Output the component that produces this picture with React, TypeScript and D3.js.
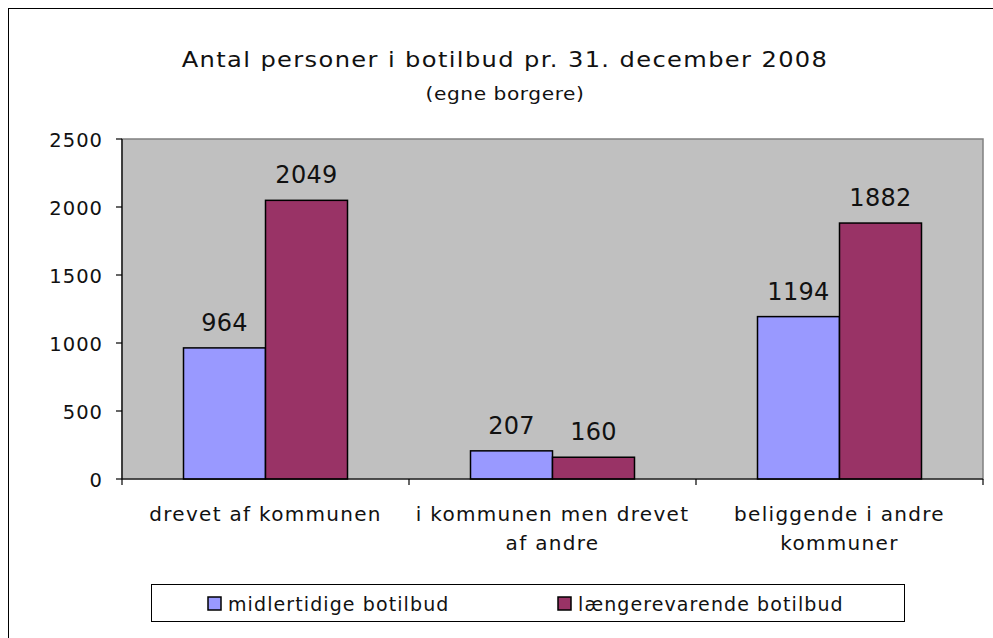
import React, { useRef, useEffect } from "react";
import * as d3 from "d3";

// chart data
const categories = [
  ["drevet af kommunen"],
  ["i kommunen men drevet", "af andre"],
  ["beliggende i andre", "kommuner"],
];
const seriesNames = ["midlertidige botilbud", "længerevarende botilbud"];
const midlertidige = [964, 207, 1194];
const laengerevarende = [2049, 160, 1882];
const yTicks = [0, 500, 1000, 1500, 2000, 2500];
const colors = ["#9999FF", "#993366"];

const W = 993;
const H = 638;
const FONT = "'DejaVu Sans', Verdana, sans-serif";

function BarChart() {
  const svgRef = useRef<SVGSVGElement | null>(null);

  const draw = () => {
    const svg = d3.select(svgRef.current);
    svg.selectAll("*").remove();

    const plot = { left: 122, top: 139, right: 983, bottom: 479 };

    // outer frame (only top/left visible)
    svg
      .append("rect")
      .attr("x", 8.5)
      .attr("y", 8.5)
      .attr("width", W + 20)
      .attr("height", H + 20)
      .attr("fill", "white")
      .attr("stroke", "black")
      .attr("stroke-width", 1);

    // title (glyphs a bit wide in the original, so stretch horizontally)
    svg
      .append("text")
      .attr("transform", "translate(505,67) scale(1.15,1)")
      .attr("text-anchor", "middle")
      .style("font-family", FONT)
      .style("font-size", "21px")
      .style("letter-spacing", "1.2px")
      .attr("fill", "#111")
      .text("Antal personer i botilbud pr. 31. december 2008");
    svg
      .append("text")
      .attr("transform", "translate(505,100) scale(1.12,1)")
      .attr("text-anchor", "middle")
      .style("font-family", FONT)
      .style("font-size", "18px")
      .style("letter-spacing", "0.5px")
      .attr("fill", "#111")
      .text("(egne borgere)");

    const x = d3
      .scaleBand()
      .domain(categories.map((c, i) => String(i)))
      .range([plot.left, plot.right])
      .padding(0);

    const inner = d3
      .scaleBand()
      .domain(["0", "1"])
      .range([0, 164]);

    const y = d3.scaleLinear().domain([0, 2500]).range([plot.bottom, plot.top]);

    // plot background
    svg
      .append("rect")
      .attr("x", plot.left)
      .attr("y", plot.top)
      .attr("width", plot.right - plot.left)
      .attr("height", plot.bottom - plot.top)
      .attr("fill", "#C0C0C0")
      .attr("stroke", "#808080")
      .attr("stroke-width", 1.5);

    const series = [midlertidige, laengerevarende];
    const g = svg.append("g");
    series.forEach((vals, s) => {
      const bx = (i: number) => x(String(i))! + x.bandwidth() / 2 - 82 + inner(String(s))!;
      g.selectAll(".bar" + s)
        .data(vals)
        .join("rect")
        .attr("x", (d, i) => bx(i))
        .attr("y", d => y(d))
        .attr("width", inner.bandwidth())
        .attr("height", d => y(0) - y(d))
        .attr("fill", colors[s])
        .attr("stroke", "black")
        .attr("stroke-width", 1.5);

      g.selectAll(".lab" + s)
        .data(vals)
        .join("text")
        .attr("x", (d, i) => bx(i) + inner.bandwidth() / 2)
        .attr("y", d => y(d) - 17)
        .attr("text-anchor", "middle")
        .style("font-family", FONT)
        .style("font-size", "24px")
        .style("letter-spacing", "0.3px")
        .attr("fill", "#111")
        .text(d => d);
    });

    // y axis
    const yAxis = svg.append("g");
    yAxis
      .append("line")
      .attr("x1", plot.left)
      .attr("x2", plot.left)
      .attr("y1", plot.top)
      .attr("y2", plot.bottom)
      .attr("stroke", "black")
      .attr("stroke-width", 1.2);
    yTicks.forEach(t => {
      yAxis
        .append("line")
        .attr("x1", plot.left - 6)
        .attr("x2", plot.left)
        .attr("y1", y(t))
        .attr("y2", y(t))
        .attr("stroke", "black")
        .attr("stroke-width", 1.2);
      yAxis
        .append("text")
        .attr("x", 103)
        .attr("y", y(t))
        .attr("dy", "0.4em")
        .attr("text-anchor", "end")
        .style("font-family", FONT)
        .style("font-size", "19.5px")
        .style("letter-spacing", "1px")
        .attr("fill", "#111")
        .text(t);
    });

    // x axis
    const xAxis = svg.append("g");
    xAxis
      .append("line")
      .attr("x1", plot.left)
      .attr("x2", plot.right)
      .attr("y1", plot.bottom)
      .attr("y2", plot.bottom)
      .attr("stroke", "black")
      .attr("stroke-width", 1.2);
    [0, 1, 2, 3].forEach(i => {
      const xx = plot.left + i * x.bandwidth();
      xAxis
        .append("line")
        .attr("x1", xx)
        .attr("x2", xx)
        .attr("y1", plot.bottom)
        .attr("y2", plot.bottom + 6)
        .attr("stroke", "black")
        .attr("stroke-width", 1.2);
    });
    categories.forEach((lines, i) => {
      lines.forEach((ln, k) => {
        xAxis
          .append("text")
          .attr("x", x(String(i))! + x.bandwidth() / 2)
          .attr("y", 521 + k * 29)
          .attr("text-anchor", "middle")
          .style("font-family", FONT)
          .style("font-size", "20px")
          .style("letter-spacing", "1.3px")
          .attr("fill", "#111")
          .text(ln);
      });
    });

    // legend
    const leg = svg.append("g");
    leg
      .append("rect")
      .attr("x", 151.5)
      .attr("y", 584.5)
      .attr("width", 753)
      .attr("height", 37)
      .attr("fill", "white")
      .attr("stroke", "black")
      .attr("stroke-width", 1);
    const legX = [208, 558];
    seriesNames.forEach((name, s) => {
      leg
        .append("rect")
        .attr("x", legX[s])
        .attr("y", 597)
        .attr("width", 13)
        .attr("height", 13)
        .attr("fill", colors[s])
        .attr("stroke", "black")
        .attr("stroke-width", 1.5);
      leg
        .append("text")
        .attr("x", legX[s] + 20)
        .attr("y", 611)
        .style("font-family", FONT)
        .style("font-size", "19px")
        .style("letter-spacing", "1.1px")
        .attr("fill", "#111")
        .text(name);
    });
  };

  useEffect(() => {
    draw();
  });

  return <svg ref={svgRef} width={W} height={H} style={{ display: "block" }}></svg>;
}

export default function App() {
  return (
    <div style={{ position: "absolute", left: 0, top: 0 }}>
      <BarChart />
    </div>
  );
}
